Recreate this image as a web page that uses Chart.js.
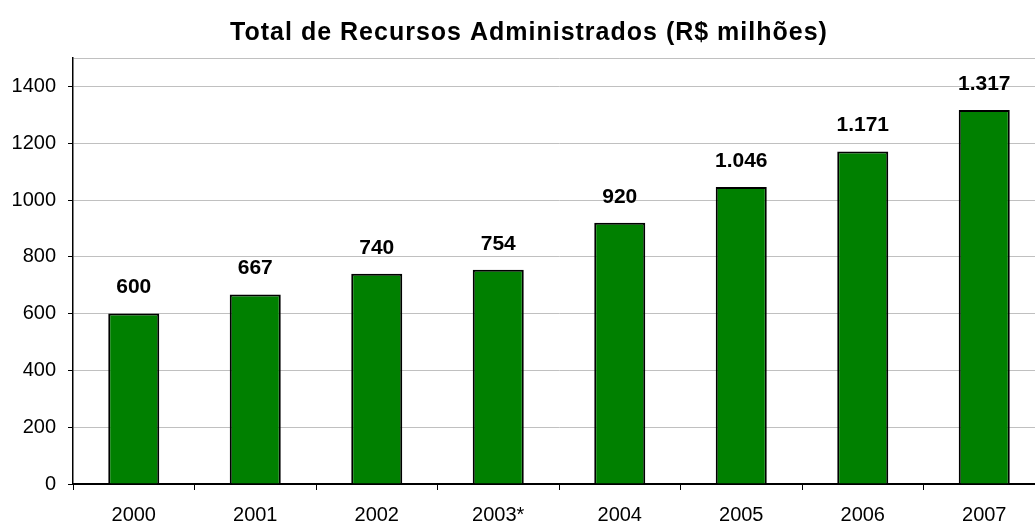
<!DOCTYPE html>
<html>
<head>
<meta charset="utf-8">
<script src="https://cdn.jsdelivr.net/npm/chart.js@4"></script>
<style>
  html, body { margin: 0; padding: 0; background: #fff; overflow: hidden; }
  #wrap { width: 1046px; height: 523px; }
</style>
</head>
<body>
<div id="wrap"><canvas id="chart"></canvas></div>
<script>
const years = ["2000", "2001", "2002", "2003*", "2004", "2005", "2006", "2007"];
const recursos = [600, 667, 740, 754, 920, 1046, 1171, 1317];
const chartTitle = "Total de Recursos Administrados (R$ milhões)";
const yMax = 1500;
const yStep = 200;

const FONT = "'Liberation Sans', Arial, sans-serif";

// 1046 -> "1.046"
const fmt = (v) => String(v).replace(/\B(?=(\d{3})+(?!\d))/g, ".");

const labelsPlugin = {
    id: "labels",
    afterDatasetsDraw(chart) {
        const ctx = chart.ctx;
        ctx.save();
        ctx.fillStyle = "#000";
        ctx.textAlign = "center";
        ctx.textBaseline = "middle";
        ctx.font = "bold 25px " + FONT;
        ctx.letterSpacing = "1px";
        ctx.fillText(chartTitle, 529, 33);
        ctx.letterSpacing = "0px";

        ctx.font = "bold 21px " + FONT;
        const meta = chart.getDatasetMeta(0);
        meta.data.forEach((bar, i) => {
            ctx.fillText(fmt(recursos[i]), bar.x, bar.y - 26);
        });
        ctx.restore();
    }
};

new Chart(document.getElementById("chart"), {
    type: "bar",
    data: {
        labels: years,
        datasets: [{
            data: recursos,
            backgroundColor: "#008000",
            borderColor: "#000",
            borderWidth: 2,
            barPercentage: 0.42,
            categoryPercentage: 1
        }]
    },
    options: {
        responsive: true,
        maintainAspectRatio: false,
        animation: false,
        layout: { padding: { top: 58, right: 1, left: 0, bottom: 0 } },
        plugins: {
            legend: { display: false },
            tooltip: { enabled: false }
        },
        scales: {
            x: {
                afterFit(scale) { scale.height = 39; },
                grid: {
                    offset: true,
                    drawOnChartArea: false,
                    drawTicks: true,
                    tickLength: 6,
                    tickColor: "#000",
                    tickWidth: 1
                },
                border: { color: "#000", width: 2 },
                ticks: {
                    color: "#000",
                    padding: 13,
                    font: { family: FONT, size: 20 }
                }
            },
            y: {
                min: 0,
                max: yMax,
                afterFit(scale) { scale.width = 73; },
                grid: {
                    color: "#c0c0c0",
                    lineWidth: 1,
                    tickLength: 5,
                    tickColor: (c) => c.tick && c.tick.value === yMax ? "rgba(0,0,0,0)" : "#000"
                },
                border: { color: "#000", width: 1.5 },
                ticks: {
                    stepSize: yStep,
                    color: "#000",
                    padding: 12,
                    font: { family: FONT, size: 20 },
                    callback: (v) => v === yMax ? "" : v
                }
            }
        }
    },
    plugins: [labelsPlugin]
});
</script>
</body>
</html>
